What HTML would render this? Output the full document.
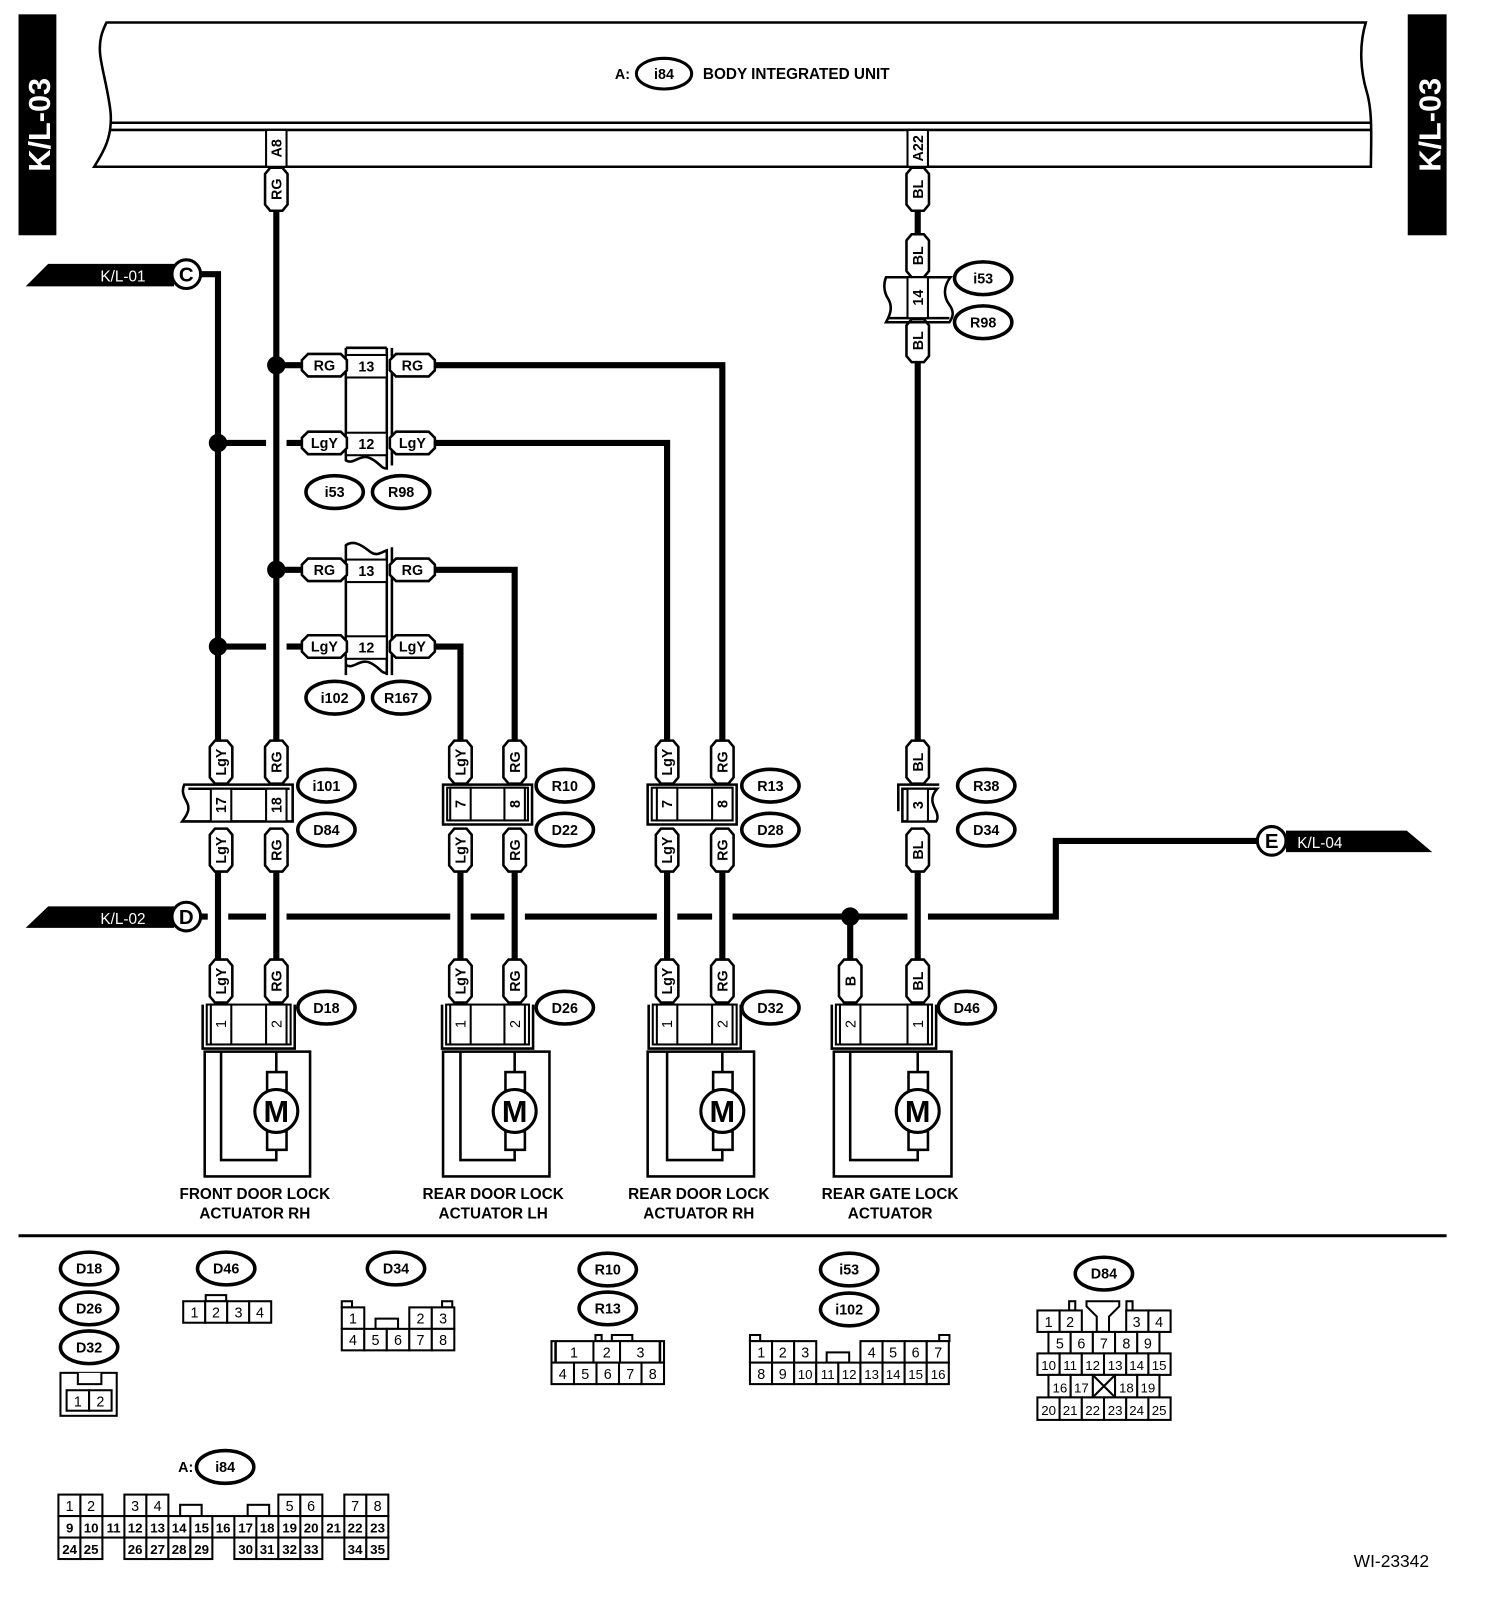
<!DOCTYPE html>
<html><head><meta charset="utf-8"><style>
html,body{margin:0;padding:0;background:#fff;}
svg{display:block;}
text{font-family:"Liberation Sans",Arial,sans-serif;font-weight:bold;fill:#000;}
.t{font-size:14px;}
.p{font-size:14px;font-weight:normal;}
.lab{font-size:15px;}
.w{fill:none;stroke:#000;stroke-width:6;}
.l{fill:none;stroke:#000;stroke-width:2.5;}
.c{fill:#fff;stroke:#000;stroke-width:2;}
.o{fill:#fff;stroke:#000;stroke-width:3;}
</style></head><body>
<svg width="1504" height="1602" viewBox="0 0 1470 1566" xmlns="http://www.w3.org/2000/svg">
<defs>
<polygon id="vt" points="-11,-15 -6,-21 6,-21 11,-15 11,15 6,21 -6,21 -11,15" fill="#fff" stroke="#000" stroke-width="2.5"/>
<polygon id="ht" points="-22,-5 -16,-11 16,-11 22,-5 22,5 16,11 -16,11 -22,5" fill="#fff" stroke="#000" stroke-width="2.5"/>
<ellipse id="ov" rx="28" ry="16" fill="#fff" stroke="#000" stroke-width="3.5"/>
</defs>

<!-- side bars -->
<rect x="18" y="14" width="37" height="216" fill="#000"/>
<text transform="translate(49,122) rotate(-90)" text-anchor="middle" style="font-size:30px;fill:#fff">K/L-03</text>
<rect x="1376" y="14" width="38" height="216" fill="#000"/>
<text transform="translate(1408,122) rotate(-90)" text-anchor="middle" style="font-size:30px;fill:#fff">K/L-03</text>

<!-- body unit -->
<path class="l" d="M104,22 L1335,22 C1328,45 1330,70 1336,90 C1342,110 1340,140 1340,163 L92,163 C100,150 110,135 108,110 C106,90 100,70 98,55 C96,40 100,30 104,22 Z"/>
<line class="l" x1="108" y1="120" x2="1340" y2="120"/>
<line class="l" x1="108" y1="127" x2="1340" y2="127"/>
<ellipse cx="649" cy="72" rx="27" ry="15" class="o"/>
<text class="t" x="649" y="77" text-anchor="middle">i84</text>
<text class="t" x="601" y="77">A:</text>
<text class="t" x="687" y="77" style="font-size:15px">BODY INTEGRATED UNIT</text>
<rect class="c" x="260" y="127" width="20" height="36"/>
<text class="t" transform="translate(275,145) rotate(-90)" text-anchor="middle">A8</text>
<rect class="c" x="887" y="127" width="20" height="36"/>
<text class="t" transform="translate(902,145) rotate(-90)" text-anchor="middle">A22</text>

<!-- wires -->
<g class="w">
<polyline points="196,268 213,268 213,725"/>
<line x1="270" y1="205" x2="270" y2="725"/>
<line x1="897" y1="205" x2="897" y2="232"/>
<line x1="897" y1="354" x2="897" y2="725"/>
<polyline points="270,357 295,357"/>
<polyline points="425,357 706,357 706,725"/>
<polyline points="213,433 260,433"/><polyline points="280,433 295,433"/>
<polyline points="425,433 652,433 652,725"/>
<polyline points="270,557 295,557"/>
<polyline points="425,557 503,557 503,725"/>
<polyline points="213,632 260,632"/><polyline points="280,632 295,632"/>
<polyline points="425,632 450,632 450,725"/>
<line x1="213" y1="853" x2="213" y2="938"/><line x1="270" y1="853" x2="270" y2="938"/>
<line x1="450" y1="853" x2="450" y2="938"/><line x1="503" y1="853" x2="503" y2="938"/>
<line x1="652" y1="853" x2="652" y2="938"/><line x1="706" y1="853" x2="706" y2="938"/>
<line x1="897" y1="853" x2="897" y2="938"/>
<line x1="831" y1="896" x2="831" y2="938"/>
<line x1="196" y1="896" x2="203" y2="896"/>
<line x1="223" y1="896" x2="260" y2="896"/>
<line x1="280" y1="896" x2="440" y2="896"/>
<line x1="460" y1="896" x2="493" y2="896"/>
<line x1="513" y1="896" x2="642" y2="896"/>
<line x1="662" y1="896" x2="696" y2="896"/>
<line x1="716" y1="896" x2="887" y2="896"/>
<polyline points="907,896 1032,896 1032,822 1229,822"/>
</g>
<circle cx="270" cy="357" r="9"/><circle cx="213" cy="433" r="9"/>
<circle cx="270" cy="557" r="9"/><circle cx="213" cy="632" r="9"/>
<circle cx="831" cy="896" r="9"/>

<!-- off-page connectors -->
<polygon points="25,280 47,258 170,258 170,280" fill="#000"/>
<text x="98" y="275" style="font-size:15px;fill:#fff;font-weight:normal">K/L-01</text>
<circle cx="182" cy="268" r="14" class="o"/><text x="182" y="275" text-anchor="middle" style="font-size:20px">C</text>
<polygon points="25,907 47,886 170,886 170,907" fill="#000"/>
<text x="98" y="903" style="font-size:15px;fill:#fff;font-weight:normal">K/L-02</text>
<circle cx="182" cy="896" r="14" class="o"/><text x="182" y="903" text-anchor="middle" style="font-size:20px">D</text>
<polygon points="1257,812 1375,812 1400,833 1257,833" fill="#000"/>
<text x="1268" y="829" style="font-size:15px;fill:#fff;font-weight:normal">K/L-04</text>
<circle cx="1243" cy="822" r="14" class="o"/><text x="1243" y="829" text-anchor="middle" style="font-size:20px">E</text>

<!-- top tags -->
<use href="#vt" x="270" y="185"/><text class="t" transform="translate(275,185) rotate(-90)" text-anchor="middle">RG</text>
<use href="#vt" x="897" y="185"/><text class="t" transform="translate(902,185) rotate(-90)" text-anchor="middle">BL</text>
<use href="#vt" x="897" y="250"/><text class="t" transform="translate(902,250) rotate(-90)" text-anchor="middle">BL</text>
<use href="#vt" x="897" y="333"/><text class="t" transform="translate(902,333) rotate(-90)" text-anchor="middle">BL</text>
<path class="l" d="M866,271 L929,271 C922,280 922,290 928,298 C934,306 930,312 928,315 L866,315 C870,308 873,300 868,292 C863,284 864,276 866,271 Z" fill="#fff"/>
<line class="l" x1="868" y1="311" x2="928" y2="311"/>
<rect class="c" x="887" y="271" width="20" height="40"/>
<text class="t" transform="translate(902,291) rotate(-90)" text-anchor="middle">14</text>
<use href="#ov" x="961" y="272"/><text class="t" x="961" y="277" text-anchor="middle">i53</text>
<use href="#ov" x="961" y="315"/><text class="t" x="961" y="320" text-anchor="middle">R98</text>

<!-- inline connector i53/R98 -->
<path class="l" d="M338,340 L378,340 M383,340 L383,455 M338,340 L338,450 C345,455 352,443 362,448 C372,453 372,458 378,458 L378,340"/>
<rect class="c" x="338" y="347" width="40" height="22"/><text class="t" x="358" y="363" text-anchor="middle">13</text>
<rect class="c" x="338" y="423" width="40" height="22"/><text class="t" x="358" y="439" text-anchor="middle">12</text>
<use href="#ht" x="317" y="357"/><text class="t" x="317" y="362" text-anchor="middle">RG</text>
<use href="#ht" x="403" y="357"/><text class="t" x="403" y="362" text-anchor="middle">RG</text>
<use href="#ht" x="317" y="433"/><text class="t" x="317" y="438" text-anchor="middle">LgY</text>
<use href="#ht" x="403" y="433"/><text class="t" x="403" y="438" text-anchor="middle">LgY</text>
<use href="#ov" x="327" y="481"/><text class="t" x="327" y="486" text-anchor="middle">i53</text>
<use href="#ov" x="392" y="481"/><text class="t" x="392" y="486" text-anchor="middle">R98</text>

<!-- inline connector i102/R167 -->
<path class="l" d="M338,660 L338,533 C345,528 352,532 360,538 C368,545 372,540 378,538 L378,660 M383,535 L383,660 M338,650 C345,655 352,643 362,648 C372,653 372,658 378,658"/>
<rect class="c" x="338" y="547" width="40" height="22"/><text class="t" x="358" y="563" text-anchor="middle">13</text>
<rect class="c" x="338" y="622" width="40" height="22"/><text class="t" x="358" y="638" text-anchor="middle">12</text>
<use href="#ht" x="317" y="557"/><text class="t" x="317" y="562" text-anchor="middle">RG</text>
<use href="#ht" x="403" y="557"/><text class="t" x="403" y="562" text-anchor="middle">RG</text>
<use href="#ht" x="317" y="632"/><text class="t" x="317" y="637" text-anchor="middle">LgY</text>
<use href="#ht" x="403" y="632"/><text class="t" x="403" y="637" text-anchor="middle">LgY</text>
<use href="#ov" x="327" y="682"/><text class="t" x="327" y="687" text-anchor="middle">i102</text>
<use href="#ov" x="392" y="682"/><text class="t" x="392" y="687" text-anchor="middle">R167</text>

<!-- mid connectors row -->
<path class="l" d="M180,767 L286,767 L286,803 L178,803 C184,795 186,790 182,783 C178,776 178,772 180,767 Z" fill="#fff"/>
<line class="l" x1="184" y1="771" x2="283" y2="771"/>
<rect class="c" x="206" y="771" width="20" height="32"/><text class="t" transform="translate(221,787) rotate(-90)" text-anchor="middle">17</text>
<rect class="c" x="260" y="771" width="20" height="32"/><text class="t" transform="translate(275,787) rotate(-90)" text-anchor="middle">18</text>
<use href="#ov" x="319" y="768"/><text class="t" x="319" y="773" text-anchor="middle">i101</text>
<use href="#ov" x="319" y="811"/><text class="t" x="319" y="816" text-anchor="middle">D84</text>

<path class="l" d="M433,767 L520,767 L520,806 L433,806 Z" fill="#fff"/>
<rect class="c" x="437" y="770" width="79" height="32"/>
<rect class="c" x="440" y="770" width="20" height="32"/><text class="t" transform="translate(455,786) rotate(-90)" text-anchor="middle">7</text>
<rect class="c" x="493" y="770" width="20" height="32"/><text class="t" transform="translate(508,786) rotate(-90)" text-anchor="middle">8</text>
<use href="#ov" x="552" y="768"/><text class="t" x="552" y="773" text-anchor="middle">R10</text>
<use href="#ov" x="552" y="811"/><text class="t" x="552" y="816" text-anchor="middle">D22</text>

<path class="l" d="M633,767 L720,767 L720,806 L633,806 Z" fill="#fff"/>
<rect class="c" x="637" y="770" width="79" height="32"/>
<rect class="c" x="642" y="770" width="20" height="32"/><text class="t" transform="translate(657,786) rotate(-90)" text-anchor="middle">7</text>
<rect class="c" x="696" y="770" width="20" height="32"/><text class="t" transform="translate(711,786) rotate(-90)" text-anchor="middle">8</text>
<use href="#ov" x="753" y="768"/><text class="t" x="753" y="773" text-anchor="middle">R13</text>
<use href="#ov" x="753" y="811"/><text class="t" x="753" y="816" text-anchor="middle">D28</text>

<path class="l" d="M878,793 L878,767 L918,767 M882,793 L882,771 L916,771 C908,780 912,787 915,793 C918,800 915,803 915,803 L882,803 Z" fill="#fff"/>
<rect class="c" x="887" y="771" width="20" height="32"/><text class="t" transform="translate(902,787) rotate(-90)" text-anchor="middle">3</text>
<use href="#ov" x="964" y="768"/><text class="t" x="964" y="773" text-anchor="middle">R38</text>
<use href="#ov" x="964" y="811"/><text class="t" x="964" y="816" text-anchor="middle">D34</text>

<g>
<use href="#vt" x="216" y="745"/><text class="t" transform="translate(221,745) rotate(-90)" text-anchor="middle">LgY</text>
<use href="#vt" x="270" y="745"/><text class="t" transform="translate(275,745) rotate(-90)" text-anchor="middle">RG</text>
<use href="#vt" x="216" y="831"/><text class="t" transform="translate(221,831) rotate(-90)" text-anchor="middle">LgY</text>
<use href="#vt" x="270" y="831"/><text class="t" transform="translate(275,831) rotate(-90)" text-anchor="middle">RG</text>
<use href="#vt" x="450" y="745"/><text class="t" transform="translate(455,745) rotate(-90)" text-anchor="middle">LgY</text>
<use href="#vt" x="503" y="745"/><text class="t" transform="translate(508,745) rotate(-90)" text-anchor="middle">RG</text>
<use href="#vt" x="450" y="831"/><text class="t" transform="translate(455,831) rotate(-90)" text-anchor="middle">LgY</text>
<use href="#vt" x="503" y="831"/><text class="t" transform="translate(508,831) rotate(-90)" text-anchor="middle">RG</text>
<use href="#vt" x="652" y="745"/><text class="t" transform="translate(657,745) rotate(-90)" text-anchor="middle">LgY</text>
<use href="#vt" x="706" y="745"/><text class="t" transform="translate(711,745) rotate(-90)" text-anchor="middle">RG</text>
<use href="#vt" x="652" y="831"/><text class="t" transform="translate(657,831) rotate(-90)" text-anchor="middle">LgY</text>
<use href="#vt" x="706" y="831"/><text class="t" transform="translate(711,831) rotate(-90)" text-anchor="middle">RG</text>
<use href="#vt" x="897" y="745"/><text class="t" transform="translate(902,745) rotate(-90)" text-anchor="middle">BL</text>
<use href="#vt" x="897" y="831"/><text class="t" transform="translate(902,831) rotate(-90)" text-anchor="middle">BL</text>
</g>

<!-- FR -->
<g>
<use href="#vt" x="216" y="959"/><text class="t" transform="translate(221,959) rotate(-90)" text-anchor="middle">LgY</text>
<use href="#vt" x="270" y="959"/><text class="t" transform="translate(275,959) rotate(-90)" text-anchor="middle">RG</text>
<rect class="c" x="202" y="982" width="82" height="39"/>
<rect class="c" x="206" y="982" width="20" height="39"/><text class="p" transform="translate(221,1001) rotate(-90)" text-anchor="middle">1</text>
<rect class="c" x="260" y="982" width="20" height="39"/><text class="p" transform="translate(275,1001) rotate(-90)" text-anchor="middle">2</text>
<polyline class="l" points="198,982 198,1025 288,1025 288,982"/>
<rect class="l" x="200" y="1028" width="103" height="122"/>
<polyline class="l" points="216,1028 216,1134 270,1134 270,1124"/>
<line class="l" x1="270" y1="1028" x2="270" y2="1048"/>
<rect class="l" x="261" y="1048" width="19" height="18" fill="#fff"/>
<rect class="l" x="261" y="1106" width="19" height="18" fill="#fff"/>
<circle cx="270" cy="1086" r="21" class="o"/><text x="270" y="1097" text-anchor="middle" style="font-size:30px">M</text>
<use href="#ov" x="319" y="985"/><text class="t" x="319" y="990" text-anchor="middle">D18</text>
<text class="lab" x="249" y="1172" text-anchor="middle">FRONT DOOR LOCK</text>
<text class="lab" x="249" y="1191" text-anchor="middle">ACTUATOR RH</text>
</g>
<!-- RL -->
<g>
<use href="#vt" x="450" y="959"/><text class="t" transform="translate(455,959) rotate(-90)" text-anchor="middle">LgY</text>
<use href="#vt" x="503" y="959"/><text class="t" transform="translate(508,959) rotate(-90)" text-anchor="middle">RG</text>
<rect class="c" x="436" y="982" width="81" height="39"/>
<rect class="c" x="440" y="982" width="20" height="39"/><text class="p" transform="translate(455,1001) rotate(-90)" text-anchor="middle">1</text>
<rect class="c" x="493" y="982" width="20" height="39"/><text class="p" transform="translate(508,1001) rotate(-90)" text-anchor="middle">2</text>
<polyline class="l" points="432,982 432,1025 521,1025 521,982"/>
<rect class="l" x="433" y="1028" width="104" height="122"/>
<polyline class="l" points="450,1028 450,1134 503,1134 503,1124"/>
<line class="l" x1="503" y1="1028" x2="503" y2="1048"/>
<rect class="l" x="494" y="1048" width="19" height="18" fill="#fff"/>
<rect class="l" x="494" y="1106" width="19" height="18" fill="#fff"/>
<circle cx="503" cy="1086" r="21" class="o"/><text x="503" y="1097" text-anchor="middle" style="font-size:30px">M</text>
<use href="#ov" x="552" y="985"/><text class="t" x="552" y="990" text-anchor="middle">D26</text>
<text class="lab" x="482" y="1172" text-anchor="middle">REAR DOOR LOCK</text>
<text class="lab" x="482" y="1191" text-anchor="middle">ACTUATOR LH</text>
</g>
<!-- RR -->
<g>
<use href="#vt" x="652" y="959"/><text class="t" transform="translate(657,959) rotate(-90)" text-anchor="middle">LgY</text>
<use href="#vt" x="706" y="959"/><text class="t" transform="translate(711,959) rotate(-90)" text-anchor="middle">RG</text>
<rect class="c" x="638" y="982" width="82" height="39"/>
<rect class="c" x="642" y="982" width="20" height="39"/><text class="p" transform="translate(657,1001) rotate(-90)" text-anchor="middle">1</text>
<rect class="c" x="696" y="982" width="20" height="39"/><text class="p" transform="translate(711,1001) rotate(-90)" text-anchor="middle">2</text>
<polyline class="l" points="634,982 634,1025 724,1025 724,982"/>
<rect class="l" x="633" y="1028" width="104" height="122"/>
<polyline class="l" points="652,1028 652,1134 706,1134 706,1124"/>
<line class="l" x1="706" y1="1028" x2="706" y2="1048"/>
<rect class="l" x="697" y="1048" width="19" height="18" fill="#fff"/>
<rect class="l" x="697" y="1106" width="19" height="18" fill="#fff"/>
<circle cx="706" cy="1086" r="21" class="o"/><text x="706" y="1097" text-anchor="middle" style="font-size:30px">M</text>
<use href="#ov" x="753" y="985"/><text class="t" x="753" y="990" text-anchor="middle">D32</text>
<text class="lab" x="683" y="1172" text-anchor="middle">REAR DOOR LOCK</text>
<text class="lab" x="683" y="1191" text-anchor="middle">ACTUATOR RH</text>
</g>
<!-- Gate -->
<g>
<use href="#vt" x="831" y="959"/><text class="t" transform="translate(836,959) rotate(-90)" text-anchor="middle">B</text>
<use href="#vt" x="897" y="959"/><text class="t" transform="translate(902,959) rotate(-90)" text-anchor="middle">BL</text>
<rect class="c" x="817" y="982" width="94" height="39"/>
<rect class="c" x="821" y="982" width="20" height="39"/><text class="p" transform="translate(836,1001) rotate(-90)" text-anchor="middle">2</text>
<rect class="c" x="887" y="982" width="20" height="39"/><text class="p" transform="translate(902,1001) rotate(-90)" text-anchor="middle">1</text>
<polyline class="l" points="813,982 813,1025 915,1025 915,982"/>
<rect class="l" x="815" y="1028" width="115" height="122"/>
<polyline class="l" points="831,1028 831,1134 897,1134 897,1124"/>
<line class="l" x1="897" y1="1028" x2="897" y2="1048"/>
<rect class="l" x="888" y="1048" width="19" height="18" fill="#fff"/>
<rect class="l" x="888" y="1106" width="19" height="18" fill="#fff"/>
<circle cx="897" cy="1086" r="21" class="o"/><text x="897" y="1097" text-anchor="middle" style="font-size:30px">M</text>
<use href="#ov" x="945" y="985"/><text class="t" x="945" y="990" text-anchor="middle">D46</text>
<text class="lab" x="870" y="1172" text-anchor="middle">REAR GATE LOCK</text>
<text class="lab" x="870" y="1191" text-anchor="middle">ACTUATOR</text>
</g>

<line x1="18" y1="1208" x2="1414" y2="1208" stroke="#000" stroke-width="3"/>

<!-- bottom connector views -->
<g>
<use href="#ov" x="87" y="1240"/><text class="t" x="87" y="1245" text-anchor="middle">D18</text>
<use href="#ov" x="87" y="1279"/><text class="t" x="87" y="1284" text-anchor="middle">D26</text>
<use href="#ov" x="87" y="1317"/><text class="t" x="87" y="1322" text-anchor="middle">D32</text>
<rect class="c" x="59" y="1342" width="55" height="42"/>
<polyline class="c" points="76,1342 76,1353 99,1353 99,1342"/>
<rect class="c" x="65" y="1359" width="22" height="20"/><text class="p" x="76" y="1375" text-anchor="middle">1</text>
<rect class="c" x="87" y="1359" width="22" height="20"/><text class="p" x="98" y="1375" text-anchor="middle">2</text>
</g>
<g>
<use href="#ov" x="221" y="1240"/><text class="t" x="221" y="1245" text-anchor="middle">D46</text>
<rect class="c" x="201" y="1266" width="20" height="6"/>
<rect class="c" x="179" y="1272" width="21.5" height="21"/><text class="p" x="190" y="1288" text-anchor="middle">1</text>
<rect class="c" x="200.5" y="1272" width="21.5" height="21"/><text class="p" x="211" y="1288" text-anchor="middle">2</text>
<rect class="c" x="222" y="1272" width="21.5" height="21"/><text class="p" x="233" y="1288" text-anchor="middle">3</text>
<rect class="c" x="243.5" y="1272" width="21.5" height="21"/><text class="p" x="254" y="1288" text-anchor="middle">4</text>
</g>
<g>
<use href="#ov" x="387" y="1240"/><text class="t" x="387" y="1245" text-anchor="middle">D34</text>
<rect class="c" x="334" y="1272" width="10" height="6"/><rect class="c" x="432" y="1272" width="10" height="6"/>
<rect class="c" x="334" y="1278" width="22" height="21"/><text class="p" x="345" y="1294" text-anchor="middle">1</text>
<rect class="c" x="367" y="1289" width="22" height="10"/>
<rect class="c" x="400" y="1278" width="22" height="21"/><text class="p" x="411" y="1294" text-anchor="middle">2</text>
<rect class="c" x="422" y="1278" width="22" height="21"/><text class="p" x="433" y="1294" text-anchor="middle">3</text>
<rect class="c" x="334" y="1299" width="22" height="21"/><text class="p" x="345" y="1315" text-anchor="middle">4</text>
<rect class="c" x="356" y="1299" width="22" height="21"/><text class="p" x="367" y="1315" text-anchor="middle">5</text>
<rect class="c" x="378" y="1299" width="22" height="21"/><text class="p" x="389" y="1315" text-anchor="middle">6</text>
<rect class="c" x="400" y="1299" width="22" height="21"/><text class="p" x="411" y="1315" text-anchor="middle">7</text>
<rect class="c" x="422" y="1299" width="22" height="21"/><text class="p" x="433" y="1315" text-anchor="middle">8</text>
</g>
<g>
<use href="#ov" x="594" y="1241"/><text class="t" x="594" y="1246" text-anchor="middle">R10</text>
<use href="#ov" x="594" y="1279"/><text class="t" x="594" y="1284" text-anchor="middle">R13</text>
<rect class="c" x="582" y="1305" width="6" height="6"/><rect class="c" x="598" y="1305" width="20" height="6"/>
<rect class="c" x="539" y="1311" width="110" height="21"/>
<line class="l" x1="543" y1="1311" x2="543" y2="1332" stroke-width="1.5"/><line class="l" x1="645" y1="1311" x2="645" y2="1332" stroke-width="1.5"/>
<line class="c" x1="580" y1="1311" x2="580" y2="1332"/><line class="c" x1="606" y1="1311" x2="606" y2="1332"/>
<text class="p" x="561" y="1327" text-anchor="middle">1</text><text class="p" x="593" y="1327" text-anchor="middle">2</text><text class="p" x="626" y="1327" text-anchor="middle">3</text>
<rect class="c" x="539" y="1332" width="22" height="21"/><text class="p" x="550" y="1348" text-anchor="middle">4</text>
<rect class="c" x="561" y="1332" width="22" height="21"/><text class="p" x="572" y="1348" text-anchor="middle">5</text>
<rect class="c" x="583" y="1332" width="22" height="21"/><text class="p" x="594" y="1348" text-anchor="middle">6</text>
<rect class="c" x="605" y="1332" width="22" height="21"/><text class="p" x="616" y="1348" text-anchor="middle">7</text>
<rect class="c" x="627" y="1332" width="22" height="21"/><text class="p" x="638" y="1348" text-anchor="middle">8</text>
</g>
<g>
<use href="#ov" x="830" y="1241"/><text class="t" x="830" y="1246" text-anchor="middle">i53</text>
<use href="#ov" x="830" y="1280"/><text class="t" x="830" y="1285" text-anchor="middle">i102</text>
<rect class="c" x="733" y="1305" width="10" height="6"/><rect class="c" x="918" y="1305" width="10" height="6"/>
<rect class="c" x="733" y="1311" width="21.6" height="21"/><text class="p" x="744" y="1327" text-anchor="middle">1</text>
<rect class="c" x="754.6" y="1311" width="21.6" height="21"/><text class="p" x="765" y="1327" text-anchor="middle">2</text>
<rect class="c" x="776.2" y="1311" width="21.6" height="21"/><text class="p" x="787" y="1327" text-anchor="middle">3</text>
<rect class="c" x="808" y="1322" width="22" height="10"/>
<rect class="c" x="841" y="1311" width="21.6" height="21"/><text class="p" x="852" y="1327" text-anchor="middle">4</text>
<rect class="c" x="862.6" y="1311" width="21.6" height="21"/><text class="p" x="873" y="1327" text-anchor="middle">5</text>
<rect class="c" x="884.2" y="1311" width="21.6" height="21"/><text class="p" x="895" y="1327" text-anchor="middle">6</text>
<rect class="c" x="905.8" y="1311" width="21.6" height="21"/><text class="p" x="917" y="1327" text-anchor="middle">7</text>
<g>
<rect class="c" x="733" y="1332" width="21.6" height="21"/><text class="p" x="744" y="1348" text-anchor="middle">8</text>
<rect class="c" x="754.6" y="1332" width="21.6" height="21"/><text class="p" x="765" y="1348" text-anchor="middle">9</text>
<rect class="c" x="776.2" y="1332" width="21.6" height="21"/><text class="p" x="787" y="1348" text-anchor="middle" style="font-size:13px">10</text>
<rect class="c" x="797.8" y="1332" width="21.6" height="21"/><text class="p" x="809" y="1348" text-anchor="middle" style="font-size:13px">11</text>
<rect class="c" x="819.4" y="1332" width="21.6" height="21"/><text class="p" x="830" y="1348" text-anchor="middle" style="font-size:13px">12</text>
<rect class="c" x="841" y="1332" width="21.6" height="21"/><text class="p" x="852" y="1348" text-anchor="middle" style="font-size:13px">13</text>
<rect class="c" x="862.6" y="1332" width="21.6" height="21"/><text class="p" x="873" y="1348" text-anchor="middle" style="font-size:13px">14</text>
<rect class="c" x="884.2" y="1332" width="21.6" height="21"/><text class="p" x="895" y="1348" text-anchor="middle" style="font-size:13px">15</text>
<rect class="c" x="905.8" y="1332" width="21.6" height="21"/><text class="p" x="917" y="1348" text-anchor="middle" style="font-size:13px">16</text>
</g>
</g>
<g>
<use href="#ov" x="1079" y="1245"/><text class="t" x="1079" y="1250" text-anchor="middle">D84</text>
<rect class="c" x="1045" y="1272" width="6" height="9"/><rect class="c" x="1101" y="1272" width="6" height="9"/>
<polygon class="c" points="1062,1272 1094,1272 1094,1277 1084,1287 1084,1302 1072,1302 1072,1287 1062,1277"/>
<rect class="c" x="1014" y="1281" width="21.7" height="21"/><text class="p" x="1025" y="1297" text-anchor="middle">1</text>
<rect class="c" x="1035.7" y="1281" width="21.7" height="21"/><text class="p" x="1046" y="1297" text-anchor="middle">2</text>
<rect class="c" x="1100.8" y="1281" width="21.7" height="21"/><text class="p" x="1111" y="1297" text-anchor="middle">3</text>
<rect class="c" x="1122.5" y="1281" width="21.7" height="21"/><text class="p" x="1133" y="1297" text-anchor="middle">4</text>
<rect class="c" x="1024.8" y="1302" width="21.7" height="21"/><text class="p" x="1036" y="1318" text-anchor="middle">5</text>
<rect class="c" x="1046.5" y="1302" width="21.7" height="21"/><text class="p" x="1057" y="1318" text-anchor="middle">6</text>
<rect class="c" x="1068.2" y="1302" width="21.7" height="21"/><text class="p" x="1079" y="1318" text-anchor="middle">7</text>
<rect class="c" x="1089.9" y="1302" width="21.7" height="21"/><text class="p" x="1101" y="1318" text-anchor="middle">8</text>
<rect class="c" x="1111.6" y="1302" width="21.7" height="21"/><text class="p" x="1122" y="1318" text-anchor="middle">9</text>
<rect class="c" x="1014" y="1323" width="21.7" height="21"/><text class="p" x="1025" y="1339" text-anchor="middle" style="font-size:13px">10</text>
<rect class="c" x="1035.7" y="1323" width="21.7" height="21"/><text class="p" x="1046" y="1339" text-anchor="middle" style="font-size:13px">11</text>
<rect class="c" x="1057.4" y="1323" width="21.7" height="21"/><text class="p" x="1068" y="1339" text-anchor="middle" style="font-size:13px">12</text>
<rect class="c" x="1079.1" y="1323" width="21.7" height="21"/><text class="p" x="1090" y="1339" text-anchor="middle" style="font-size:13px">13</text>
<rect class="c" x="1100.8" y="1323" width="21.7" height="21"/><text class="p" x="1111" y="1339" text-anchor="middle" style="font-size:13px">14</text>
<rect class="c" x="1122.5" y="1323" width="21.7" height="21"/><text class="p" x="1133" y="1339" text-anchor="middle" style="font-size:13px">15</text>
<rect class="c" x="1024.8" y="1344" width="21.7" height="22"/><text class="p" x="1036" y="1361" text-anchor="middle" style="font-size:13px">16</text>
<rect class="c" x="1046.5" y="1344" width="21.7" height="22"/><text class="p" x="1057" y="1361" text-anchor="middle" style="font-size:13px">17</text>
<rect class="c" x="1068.2" y="1344" width="21.7" height="22"/><path class="c" d="M1068,1344 L1090,1366 M1090,1344 L1068,1366"/>
<rect class="c" x="1089.9" y="1344" width="21.7" height="22"/><text class="p" x="1101" y="1361" text-anchor="middle" style="font-size:13px">18</text>
<rect class="c" x="1111.6" y="1344" width="21.7" height="22"/><text class="p" x="1122" y="1361" text-anchor="middle" style="font-size:13px">19</text>
<rect class="c" x="1014" y="1366" width="21.7" height="22"/><text class="p" x="1025" y="1383" text-anchor="middle" style="font-size:13px">20</text>
<rect class="c" x="1035.7" y="1366" width="21.7" height="22"/><text class="p" x="1046" y="1383" text-anchor="middle" style="font-size:13px">21</text>
<rect class="c" x="1057.4" y="1366" width="21.7" height="22"/><text class="p" x="1068" y="1383" text-anchor="middle" style="font-size:13px">22</text>
<rect class="c" x="1079.1" y="1366" width="21.7" height="22"/><text class="p" x="1090" y="1383" text-anchor="middle" style="font-size:13px">23</text>
<rect class="c" x="1100.8" y="1366" width="21.7" height="22"/><text class="p" x="1111" y="1383" text-anchor="middle" style="font-size:13px">24</text>
<rect class="c" x="1122.5" y="1366" width="21.7" height="22"/><text class="p" x="1133" y="1383" text-anchor="middle" style="font-size:13px">25</text>
</g>

<!-- i84 -->
<g>
<text class="t" x="174" y="1439">A:</text>
<use href="#ov" x="220" y="1434"/><text class="t" x="220" y="1439" text-anchor="middle">i84</text>
<rect class="c" x="176" y="1471" width="21" height="11"/><rect class="c" x="242" y="1471" width="21" height="11"/>
<g style="font-size:13px">
<rect class="c" x="57" y="1461" width="21.5" height="21"/><text class="p" x="68" y="1477" text-anchor="middle">1</text>
<rect class="c" x="78.5" y="1461" width="21.5" height="21"/><text class="p" x="89" y="1477" text-anchor="middle">2</text>
<rect class="c" x="121.5" y="1461" width="21.5" height="21"/><text class="p" x="132" y="1477" text-anchor="middle">3</text>
<rect class="c" x="143" y="1461" width="21.5" height="21"/><text class="p" x="154" y="1477" text-anchor="middle">4</text>
<rect class="c" x="272" y="1461" width="21.5" height="21"/><text class="p" x="283" y="1477" text-anchor="middle">5</text>
<rect class="c" x="293.5" y="1461" width="21.5" height="21"/><text class="p" x="304" y="1477" text-anchor="middle">6</text>
<rect class="c" x="336.5" y="1461" width="21.5" height="21"/><text class="p" x="347" y="1477" text-anchor="middle">7</text>
<rect class="c" x="358" y="1461" width="21.5" height="21"/><text class="p" x="369" y="1477" text-anchor="middle">8</text>
</g>
<rect class="c" x="57" y="1482" width="322.5" height="21"/>
<g stroke="#000" stroke-width="2">
<line x1="78.5" y1="1482" x2="78.5" y2="1503"/><line x1="100" y1="1482" x2="100" y2="1503"/><line x1="121.5" y1="1482" x2="121.5" y2="1503"/><line x1="143" y1="1482" x2="143" y2="1503"/><line x1="164.5" y1="1482" x2="164.5" y2="1503"/><line x1="186" y1="1482" x2="186" y2="1503"/><line x1="207.5" y1="1482" x2="207.5" y2="1503"/><line x1="229" y1="1482" x2="229" y2="1503"/><line x1="250.5" y1="1482" x2="250.5" y2="1503"/><line x1="272" y1="1482" x2="272" y2="1503"/><line x1="293.5" y1="1482" x2="293.5" y2="1503"/><line x1="315" y1="1482" x2="315" y2="1503"/><line x1="336.5" y1="1482" x2="336.5" y2="1503"/><line x1="358" y1="1482" x2="358" y2="1503"/>
</g>
<g class="p" style="font-size:13px" text-anchor="middle">
<text x="68" y="1498">9</text><text x="89" y="1498">10</text><text x="111" y="1498">11</text><text x="132" y="1498">12</text><text x="154" y="1498">13</text><text x="175" y="1498">14</text><text x="197" y="1498">15</text><text x="218" y="1498">16</text><text x="240" y="1498">17</text><text x="261" y="1498">18</text><text x="283" y="1498">19</text><text x="304" y="1498">20</text><text x="326" y="1498">21</text><text x="347" y="1498">22</text><text x="369" y="1498">23</text>
</g>
<rect class="c" x="57" y="1503" width="21.5" height="21"/><rect class="c" x="78.5" y="1503" width="21.5" height="21"/>
<rect class="c" x="121.5" y="1503" width="21.5" height="21"/><rect class="c" x="143" y="1503" width="21.5" height="21"/><rect class="c" x="164.5" y="1503" width="21.5" height="21"/><rect class="c" x="186" y="1503" width="21.5" height="21"/>
<rect class="c" x="229" y="1503" width="21.5" height="21"/><rect class="c" x="250.5" y="1503" width="21.5" height="21"/><rect class="c" x="272" y="1503" width="21.5" height="21"/><rect class="c" x="293.5" y="1503" width="21.5" height="21"/>
<rect class="c" x="336.5" y="1503" width="21.5" height="21"/><rect class="c" x="358" y="1503" width="21.5" height="21"/>
<g class="p" style="font-size:13px" text-anchor="middle">
<text x="68" y="1519">24</text><text x="89" y="1519">25</text><text x="132" y="1519">26</text><text x="154" y="1519">27</text><text x="175" y="1519">28</text><text x="197" y="1519">29</text><text x="240" y="1519">30</text><text x="261" y="1519">31</text><text x="283" y="1519">32</text><text x="304" y="1519">33</text><text x="347" y="1519">34</text><text x="369" y="1519">35</text>
</g>
</g>

<text x="1360" y="1532" text-anchor="middle" style="font-size:17px;font-weight:normal">WI-23342</text>
</svg>
</body></html>
